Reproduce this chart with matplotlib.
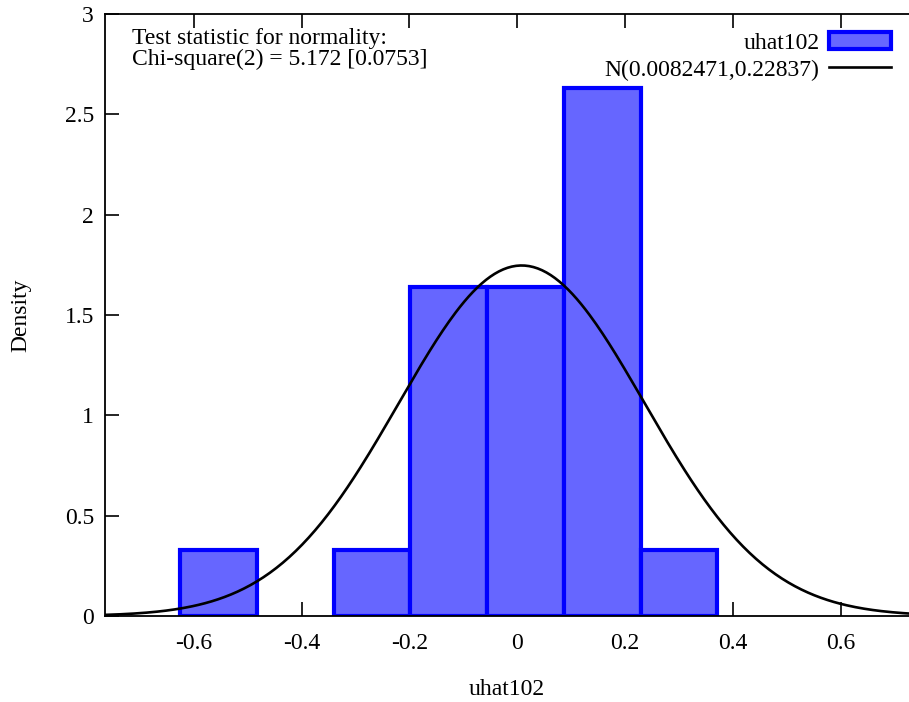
import numpy as np
import matplotlib.pyplot as plt
from matplotlib.patches import Patch
from matplotlib.lines import Line2D

# histogram of uhat102 (density scale), 7 bins
bin_edges = [-0.625, -0.4827, -0.3404, -0.1981, -0.0558, 0.0865, 0.2288, 0.3711]
densities = [0.33, 0.0, 0.33, 1.64, 1.64, 2.63, 0.33]

# normal density from the chart legend
mu = 0.0082471
sigma = 0.22837

xticks = [-0.6, -0.4, -0.2, 0, 0.2, 0.4, 0.6]
xtick_labels = ["-0.6", "-0.4", "-0.2", "0", "0.2", "0.4", "0.6"]
yticks = [0, 0.5, 1, 1.5, 2, 2.5, 3]
ytick_labels = ["0", "0.5", "1", "1.5", "2", "2.5", "3"]

bar_face = "#6666ff"
bar_edge = "#0000ff"


def plot():
    plt.rcParams["font.family"] = ["Liberation Serif", "DejaVu Serif"]
    fig = plt.figure(figsize=(9.09, 7.02), dpi=100)
    ax = fig.add_axes([0.1155, 0.1225, 0.8845, 0.8575])

    left = np.array(bin_edges[:-1])
    widths = np.diff(bin_edges)
    for x0, w, h in zip(left, widths, densities):
        if h > 0:
            ax.bar(x0, h, width=w, align="edge", color=bar_face,
                   edgecolor=bar_edge, linewidth=3, zorder=2)

    xs = np.linspace(-0.8, 0.8, 400)
    pdf = np.exp(-0.5 * ((xs - mu) / sigma) ** 2) / (sigma * np.sqrt(2 * np.pi))
    ax.plot(xs, pdf, color="black", linewidth=1.9, zorder=3)

    ax.set_xlim(-0.765, 0.727)
    ax.set_ylim(0, 3)
    ax.set_xticks(xticks)
    ax.set_xticklabels(xtick_labels)
    ax.set_yticks(yticks)
    ax.set_yticklabels(ytick_labels)

    ax.spines["right"].set_visible(False)
    for s in ["left", "bottom", "top"]:
        ax.spines[s].set_linewidth(1.3)
    ax.tick_params(direction="in", length=10, width=1.2, top=True,
                   labelsize=17, pad=12)
    ax.tick_params(axis="y", pad=8)

    ax.set_xlabel("uhat102", fontsize=17, labelpad=18)
    ax.set_ylabel("Density", fontsize=17, labelpad=24)

    ax.text(0.033, 0.976, "Test statistic for normality:\nChi-square(2) = 5.172 [0.0753]",
            transform=ax.transAxes, fontsize=17, va="top", ha="left",
            linespacing=0.98)

    handles = [Patch(facecolor=bar_face, edgecolor=bar_edge, linewidth=3),
               Line2D([0], [0], color="black", linewidth=1.9)]
    ax.legend(handles, ["uhat102", "N(0.0082471,0.22837)"],
              loc="upper right", bbox_to_anchor=(0.995, 0.994),
              frameon=False, fontsize=17, markerfirst=False,
              handlelength=2.6, handleheight=0.76, handletextpad=0.42,
              labelspacing=0.22, borderaxespad=0.2)
    return fig


def main():
    plot()
    plt.savefig("out.png", dpi=100)


if __name__ == "__main__":
    main()
